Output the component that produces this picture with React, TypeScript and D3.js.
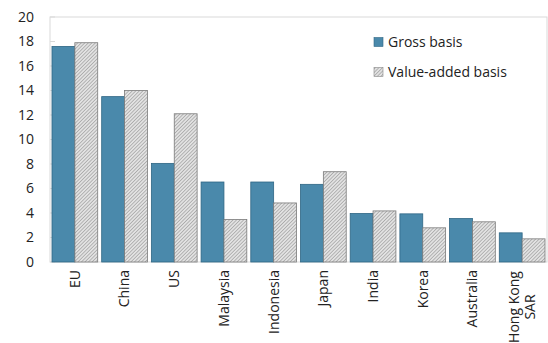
import React from "react";
import * as d3 from "d3";

const categories = ["EU", "China", "US", "Malaysia", "Indonesia", "Japan", "India", "Korea", "Australia", "Hong Kong\nSAR"];
const grossBasis = [17.6, 13.5, 8.05, 6.53, 6.53, 6.34, 3.96, 3.93, 3.55, 2.38];
const valueAddedBasis = [17.9, 14.0, 12.1, 3.47, 4.82, 7.37, 4.17, 2.79, 3.28, 1.89];
const yTicks = [0, 2, 4, 6, 8, 10, 12, 14, 16, 18, 20];
const seriesNames = ["Gross basis", "Value-added basis"];

const W = 548;
const H = 343;
const margin = { top: 17, right: 1, bottom: 81, left: 50 };

const App: React.FC = () => {
  const innerW = W - margin.left - margin.right;
  const innerH = H - margin.top - margin.bottom;

  const x = d3.scaleBand<number>().domain(d3.range(categories.length)).range([0, innerW]).paddingInner(0.08).paddingOuter(0.04);
  const y = d3.scaleLinear().domain([0, 20]).range([innerH, 0]);
  const bw = x.bandwidth() / 2;
  const font = "'Open Sans', 'Noto Sans', sans-serif";

  return (
    <svg width={W} height={H} style={{ position: "absolute", left: 0, top: 0 }} fontFamily={font}>
      <defs>
        <pattern id="hatch" width="2.5" height="2.5" patternUnits="userSpaceOnUse" patternTransform="rotate(45)">
          <rect width="2.5" height="2.5" fill="#e2e2e2" />
          <line x1="0" y1="0" x2="0" y2="2.5" stroke="#8e8e8e" strokeWidth="1.1" />
        </pattern>
      </defs>
      <g transform={`translate(${margin.left},${margin.top})`}>
        <rect x={0} y={0} width={innerW} height={innerH} fill="none" stroke="#d9d9d9" strokeWidth={1} />
        {yTicks.map((t) => (
          <g key={t}>
            <line x1={0} x2={5} y1={y(t)} y2={y(t)} stroke="#d9d9d9" />
            <text x={-16} y={y(t)} dy="0.35em" textAnchor="end" fontSize={14} fill="#222">
              {t}
            </text>
          </g>
        ))}
        {categories.map((c, i) => {
          const x0 = x(i)!;
          const cx = x0 + x.bandwidth() / 2;
          const lines = c.split("\n");
          return (
            <g key={c}>
              <rect x={x0} y={y(grossBasis[i])} width={bw} height={innerH - y(grossBasis[i])} fill="#4a89ab" stroke="#2f6684" strokeWidth={0.8} />
              <rect x={x0 + bw} y={y(valueAddedBasis[i])} width={bw} height={innerH - y(valueAddedBasis[i])} fill="url(#hatch)" stroke="#7a7a7a" strokeWidth={0.8} />
              {lines.length === 1 ? (
                <text transform={`translate(${cx},${innerH + 8}) rotate(-90)`} dy="0.35em" textAnchor="end" fontSize={14} fill="#222">
                  {c}
                </text>
              ) : (
                lines.map((line, j) => (
                  <text
                    key={j}
                    transform={`translate(${cx + (j - (lines.length - 1) / 2) * 15.5},${innerH + 45}) rotate(-90)`}
                    dy="0.35em"
                    textAnchor="middle"
                    fontSize={14}
                    fill="#222"
                  >
                    {line}
                  </text>
                ))
              )}
            </g>
          );
        })}
        {seriesNames.map((s, i) => (
          <g key={s} transform={`translate(${324},${25 + i * 30})`}>
            <rect x={0} y={-4.5} width={9} height={9} fill={i === 0 ? "#4a89ab" : "url(#hatch)"} stroke={i === 0 ? "#2f6684" : "#888"} strokeWidth={0.6} />
            <text x={14} y={0} dy="0.35em" fontSize={14} fill="#222">
              {s}
            </text>
          </g>
        ))}
      </g>
    </svg>
  );
};

export default App;
